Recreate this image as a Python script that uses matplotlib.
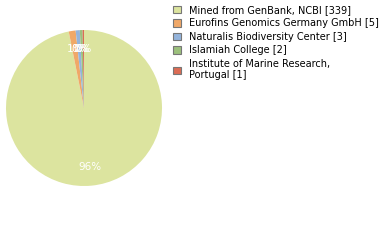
import matplotlib
matplotlib.use('Agg')
import matplotlib.pyplot as plt
from matplotlib.patches import Patch

labels = ['Mined from GenBank, NCBI [339]',
          'Eurofins Genomics Germany GmbH [5]',
          'Naturalis Biodiversity Center [3]',
          'Islamiah College [2]',
          'Institute of Marine Research,\nPortugal [1]']
counts = [339, 5, 3, 2, 1]
colors = ['#dce49f', '#f0a868', '#94b4dc', '#9cc07c', '#dc6c54']

fig = plt.figure(figsize=(3.8, 2.4), dpi=100)
ax = fig.add_axes([6 / 380, 54 / 240, 156 / 380, 156 / 240])

wedges, texts, autotexts = ax.pie(
    counts, colors=colors, startangle=90, counterclock=False,
    autopct=lambda p: '%d%%' % int(p), pctdistance=0.76,
    wedgeprops=dict(linewidth=0),
    textprops=dict(color='white', fontsize=7.5))
ax.set_aspect('equal')
ax.set_xlim(-1, 1)
ax.set_ylim(-1, 1)

# 图例
handles = [Patch(facecolor=c, edgecolor='#777777', linewidth=0.8) for c in colors]
fig.legend(handles, labels, loc='upper left', bbox_to_anchor=(168 / 380, 1.0),
           frameon=False, fontsize=7, handlelength=0.8, handleheight=0.8,
           handletextpad=0.9, labelspacing=0.36, borderaxespad=0.1)

fig.savefig('out.png', dpi=100)
